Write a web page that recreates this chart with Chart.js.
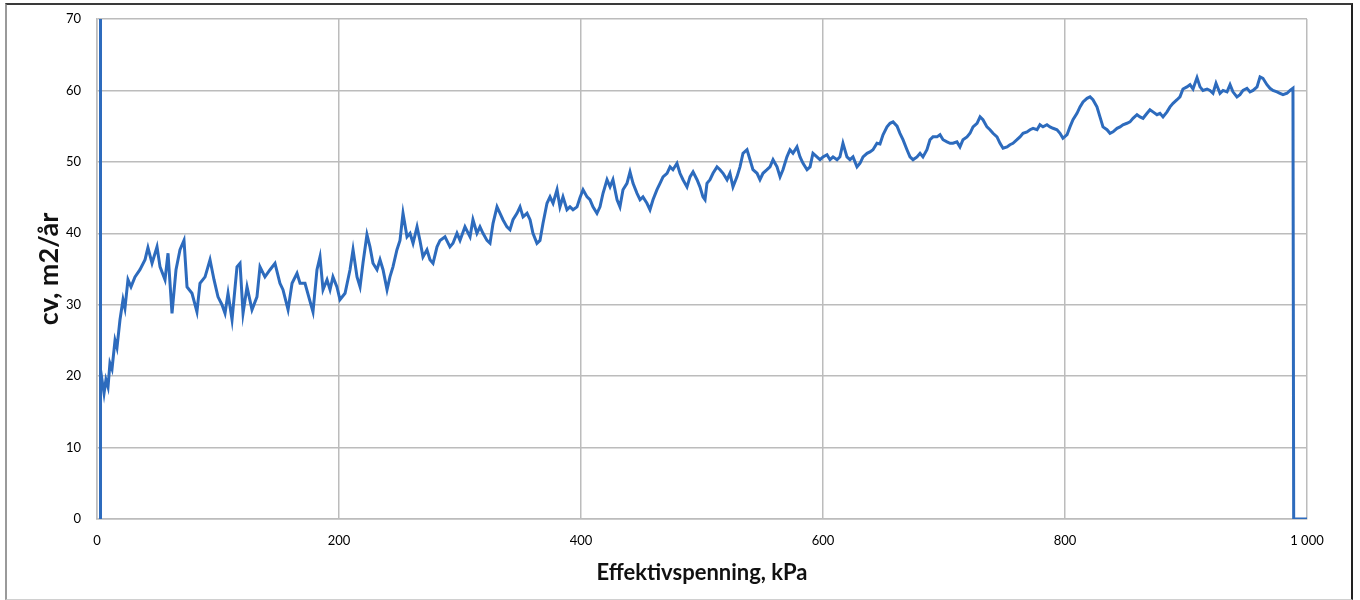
<!DOCTYPE html>
<html>
<head>
<meta charset="utf-8">
<script src="https://cdn.jsdelivr.net/npm/chart.js@4.4.1/dist/chart.umd.min.js"></script>
<style>
  html, body { margin: 0; padding: 0; background: #fff; }
  #wrap { position: relative; width: 1360px; height: 600px; }
  #frame {
    position: absolute; left: 5px; top: 3px; width: 1344px; height: 594px;
    border-top: 2px solid #3a3a3a; border-left: 2px solid #9a9a9a;
    border-right: 2px solid #222; border-bottom: 1px solid #d0d0d0;
    pointer-events: none;
  }
</style>
</head>
<body>
<div id="wrap">
  <canvas id="chartCv" width="1360" height="600"></canvas>
  <div id="frame"></div>
</div>
<script>
// Effektivspenning (kPa) og cv (m2/år)
const effSpenning = [
  2.5, 2.5, 3.3, 4.1, 5.0, 5.8, 7.4, 9.1, 10.7, 12.4, 14.9, 16.5, 19.0, 21.5, 23.1, 25.6, 28.1, 31.4, 35.5, 39.7,
  42.1, 45.5, 49.6, 52.1, 56.2, 58.7, 62.0, 65.3, 68.6, 71.9, 74.4, 78.5, 82.6, 85.1, 89.3, 93.4, 96.7, 100.0, 103.3, 105.8,
  108.3, 111.6, 115.7, 118.2, 120.7, 124.0, 128.1, 132.2, 134.7, 138.8, 143.0, 147.1, 151.2, 153.7, 157.9, 161.2, 165.3, 167.8, 171.9, 176.0,
  178.5, 181.8, 184.3, 186.8, 190.1, 192.6, 195.0, 198.3, 200.8, 205.0, 209.1, 211.6, 214.9, 217.4, 219.8, 223.1, 225.6, 228.1, 231.4, 233.9,
  236.4, 239.7, 242.1, 244.6, 247.9, 250.4, 252.9, 256.2, 258.7, 261.2, 264.5, 266.9, 269.4, 272.7, 275.2, 277.7, 281.0, 283.5, 287.6, 291.7,
  294.2, 297.5, 300.0, 304.1, 308.3, 310.7, 314.0, 316.5, 319.0, 322.3, 324.8, 327.3, 330.6, 333.1, 335.5, 338.8, 341.3, 343.8, 347.1, 349.6,
  352.1, 355.4, 357.9, 360.3, 363.6, 366.1, 368.6, 371.9, 374.4, 376.9, 380.2, 382.6, 385.1, 388.4, 390.9, 393.4, 396.7, 399.2, 401.7, 405.0,
  407.4, 409.9, 413.2, 415.7, 418.2, 421.5, 424.0, 426.4, 429.8, 432.2, 434.7, 438.0, 440.5, 443.0, 446.3, 448.8, 451.2, 454.5, 457.0, 459.5,
  462.8, 465.3, 467.8, 471.1, 473.6, 476.0, 479.3, 481.8, 484.3, 487.6, 490.1, 492.6, 495.9, 498.3, 500.8, 502.5, 504.1, 506.6, 509.1, 512.4,
  514.9, 517.4, 520.7, 523.1, 525.6, 528.9, 531.4, 533.9, 537.2, 539.7, 542.1, 545.5, 547.9, 550.4, 553.7, 556.2, 558.7, 562.0, 564.5, 566.9,
  570.2, 572.7, 575.2, 578.5, 581.0, 583.5, 586.8, 589.3, 591.7, 595.0, 597.5, 600.0, 603.3, 605.8, 608.3, 611.6, 614.0, 616.5, 619.8, 622.3,
  624.8, 628.1, 630.6, 633.1, 636.4, 638.8, 641.3, 644.6, 647.1, 649.6, 652.9, 655.4, 657.9, 661.2, 663.6, 666.1, 669.4, 671.9, 674.4, 677.7,
  680.2, 682.6, 685.9, 688.4, 690.9, 694.2, 696.7, 699.2, 702.5, 705.0, 707.4, 710.7, 713.2, 715.7, 719.0, 721.5, 724.0, 727.3, 729.8, 732.2,
  735.5, 738.0, 740.5, 743.8, 746.3, 748.8, 752.1, 754.5, 757.0, 760.3, 762.8, 765.3, 768.6, 771.1, 773.6, 776.9, 779.3, 781.8, 785.1, 787.6,
  790.1, 793.4, 795.9, 798.3, 801.7, 804.1, 806.6, 809.9, 812.4, 814.9, 818.2, 820.7, 823.1, 826.4, 828.9, 831.4, 834.7, 837.2, 839.7, 843.0,
  845.5, 847.9, 851.2, 853.7, 856.2, 859.5, 862.0, 864.5, 867.8, 870.2, 872.7, 876.0, 878.5, 881.0, 884.3, 886.8, 889.3, 892.6, 895.0, 897.5,
  900.8, 903.3, 905.8, 909.1, 911.6, 914.0, 917.4, 919.8, 922.3, 924.8, 928.1, 930.6, 933.9, 936.4, 938.8, 942.1, 944.6, 947.1, 950.4, 952.9,
  955.4, 958.7, 961.2, 963.6, 966.9, 969.4, 971.9, 975.2, 977.7, 980.2, 983.5, 986.0, 988.4, 989.0, 1000.0
];
const cvVerdier = [
  0, 70, 20.9, 19.5, 18.5, 17.6, 19.5, 18.5, 21.8, 21.0, 25.0, 24.0, 27.9, 30.7, 29.5, 33.5, 32.5, 33.9, 34.9, 36.3,
  38.0, 35.8, 38.1, 35.3, 33.5, 37.2, 28.8, 34.9, 37.7, 39.0, 32.5, 31.6, 29.0, 33.0, 33.9, 36.3, 33.5, 31.1, 30.0, 28.8,
  31.6, 27.9, 35.3, 35.8, 28.8, 32.5, 29.3, 31.1, 35.3, 33.9, 34.9, 35.8, 33.0, 32.1, 29.3, 33.0, 34.4, 33.0, 33.0, 30.5,
  29.0, 34.9, 36.7, 32.1, 33.5, 32.1, 33.9, 32.5, 30.7, 31.6, 34.9, 37.7, 33.9, 32.5, 35.8, 39.8, 38.1, 35.8, 34.9, 36.3,
  34.9, 32.1, 33.9, 35.3, 37.7, 39.0, 42.8, 39.5, 40.0, 38.6, 40.9, 39.0, 36.7, 37.7, 36.3, 35.8, 38.1, 39.0, 39.5, 38.1,
  38.6, 40.0, 39.0, 40.9, 39.5, 41.9, 40.0, 40.9, 40.0, 39.0, 38.6, 41.4, 43.7, 42.8, 41.9, 40.9, 40.5, 41.9, 42.8, 43.7,
  42.3, 42.8, 41.9, 40.0, 38.6, 39.0, 41.4, 44.2, 45.1, 44.2, 46.1, 43.7, 45.1, 43.3, 43.7, 43.3, 43.7, 45.0, 46.1, 45.1,
  44.7, 43.7, 42.8, 43.7, 45.6, 47.5, 46.5, 47.5, 44.7, 43.7, 46.1, 47.0, 48.6, 47.0, 45.6, 44.7, 45.1, 44.2, 43.3, 44.7,
  46.1, 47.0, 47.9, 48.4, 49.3, 48.9, 49.8, 48.4, 47.5, 46.5, 47.9, 48.6, 47.5, 46.5, 45.1, 44.7, 47.0, 47.5, 48.4, 49.3,
  48.9, 48.4, 47.5, 48.4, 46.5, 47.9, 49.3, 51.2, 51.7, 50.3, 48.9, 48.4, 47.5, 48.4, 48.9, 49.3, 50.3, 49.3, 47.9, 48.9,
  50.7, 51.7, 51.2, 52.1, 50.7, 49.8, 48.9, 49.3, 51.2, 50.7, 50.3, 50.7, 51.0, 50.3, 50.7, 50.3, 50.7, 52.6, 50.7, 50.3,
  50.7, 49.3, 49.8, 50.7, 51.2, 51.4, 51.7, 52.6, 52.5, 53.8, 54.9, 55.4, 55.6, 55.0, 54.0, 53.1, 51.7, 50.7, 50.3, 50.7,
  51.2, 50.7, 51.7, 53.1, 53.5, 53.5, 53.8, 53.1, 52.8, 52.6, 52.6, 52.8, 52.1, 53.1, 53.5, 54.0, 54.9, 55.4, 56.3, 55.9,
  54.9, 54.5, 54.0, 53.5, 52.6, 51.9, 52.1, 52.4, 52.6, 53.1, 53.5, 54.0, 54.2, 54.5, 54.7, 54.5, 55.2, 54.9, 55.2, 54.9,
  54.7, 54.5, 54.0, 53.3, 53.8, 54.9, 55.9, 56.8, 57.7, 58.4, 58.9, 59.1, 58.7, 57.7, 56.3, 54.9, 54.5, 54.0, 54.2, 54.7,
  54.9, 55.2, 55.4, 55.6, 56.1, 56.6, 56.3, 56.1, 56.8, 57.3, 57.0, 56.6, 56.8, 56.3, 57.0, 57.7, 58.2, 58.7, 59.1, 60.2,
  60.5, 60.8, 60.2, 61.8, 60.5, 60.0, 60.2, 60.0, 59.6, 61.0, 59.6, 60.0, 59.8, 60.8, 59.8, 59.1, 59.4, 60.0, 60.3, 59.8,
  60.0, 60.5, 61.9, 61.7, 60.8, 60.3, 60.0, 59.8, 59.6, 59.4, 59.6, 60.0, 60.3, 0, 0
];

const xTicks = [0, 200, 400, 600, 800, 1000];
const yTicks = [0, 10, 20, 30, 40, 50, 60, 70];

const punkter = effSpenning.map((x, i) => ({ x: x, y: cvVerdier[i] }));

const gridFarge = '#bcbcbc';
const tickFont = { family: 'Lato', size: 13 };

// tusenskille med mellomrom: 1000 -> "1 000"
const fmt = v => String(v).replace(/\B(?=(\d{3})+(?!\d))/g, ' ');

new Chart(document.getElementById('chartCv'), {
  type: 'line',
  data: {
    datasets: [{
      data: punkter,
      borderColor: '#2d6bbd',
      borderWidth: 3,
      pointRadius: 0,
      tension: 0,
      fill: false
    }]
  },
  options: {
    responsive: false,
    animation: false,
    layout: { padding: { top: 19, right: 53, left: 0, bottom: 0 } },
    plugins: { legend: { display: false }, tooltip: { enabled: false } },
    scales: {
      x: {
        type: 'linear',
        min: xTicks[0],
        max: xTicks[xTicks.length - 1],
        afterBuildTicks: s => { s.ticks = xTicks.map(v => ({ value: v })); },
        afterFit: s => { s.height = 81; },
        ticks: { padding: 14, color: '#000', font: tickFont, maxRotation: 0, callback: v => fmt(v) },
        grid: { color: gridFarge, lineWidth: 1.5, drawTicks: false },
        border: { color: gridFarge, width: 1.5 },
        title: { display: true, text: 'Effektivspenning, kPa', color: '#111', font: { family: 'Lato', size: 22, weight: 'bold' }, padding: { top: 0, bottom: 14 } }
      },
      y: {
        min: yTicks[0],
        max: yTicks[yTicks.length - 1],
        afterBuildTicks: s => { s.ticks = yTicks.map(v => ({ value: v })); },
        // fast bredde, og ingen ekstra luft over/under for etikettene
        afterFit: s => { s.width = 97; s.paddingTop = 0; s.paddingBottom = 0; },
        ticks: { padding: 16, color: '#000', font: tickFont },
        grid: { color: gridFarge, lineWidth: 1.5, drawTicks: false },
        border: { color: gridFarge, width: 1.5 },
        title: { display: true, text: 'cv, m2/år', color: '#111', font: { family: 'Lato', size: 27, weight: 'bold' }, padding: { top: 33, bottom: 0 } }
      }
    }
  }
});
</script>
</body>
</html>
